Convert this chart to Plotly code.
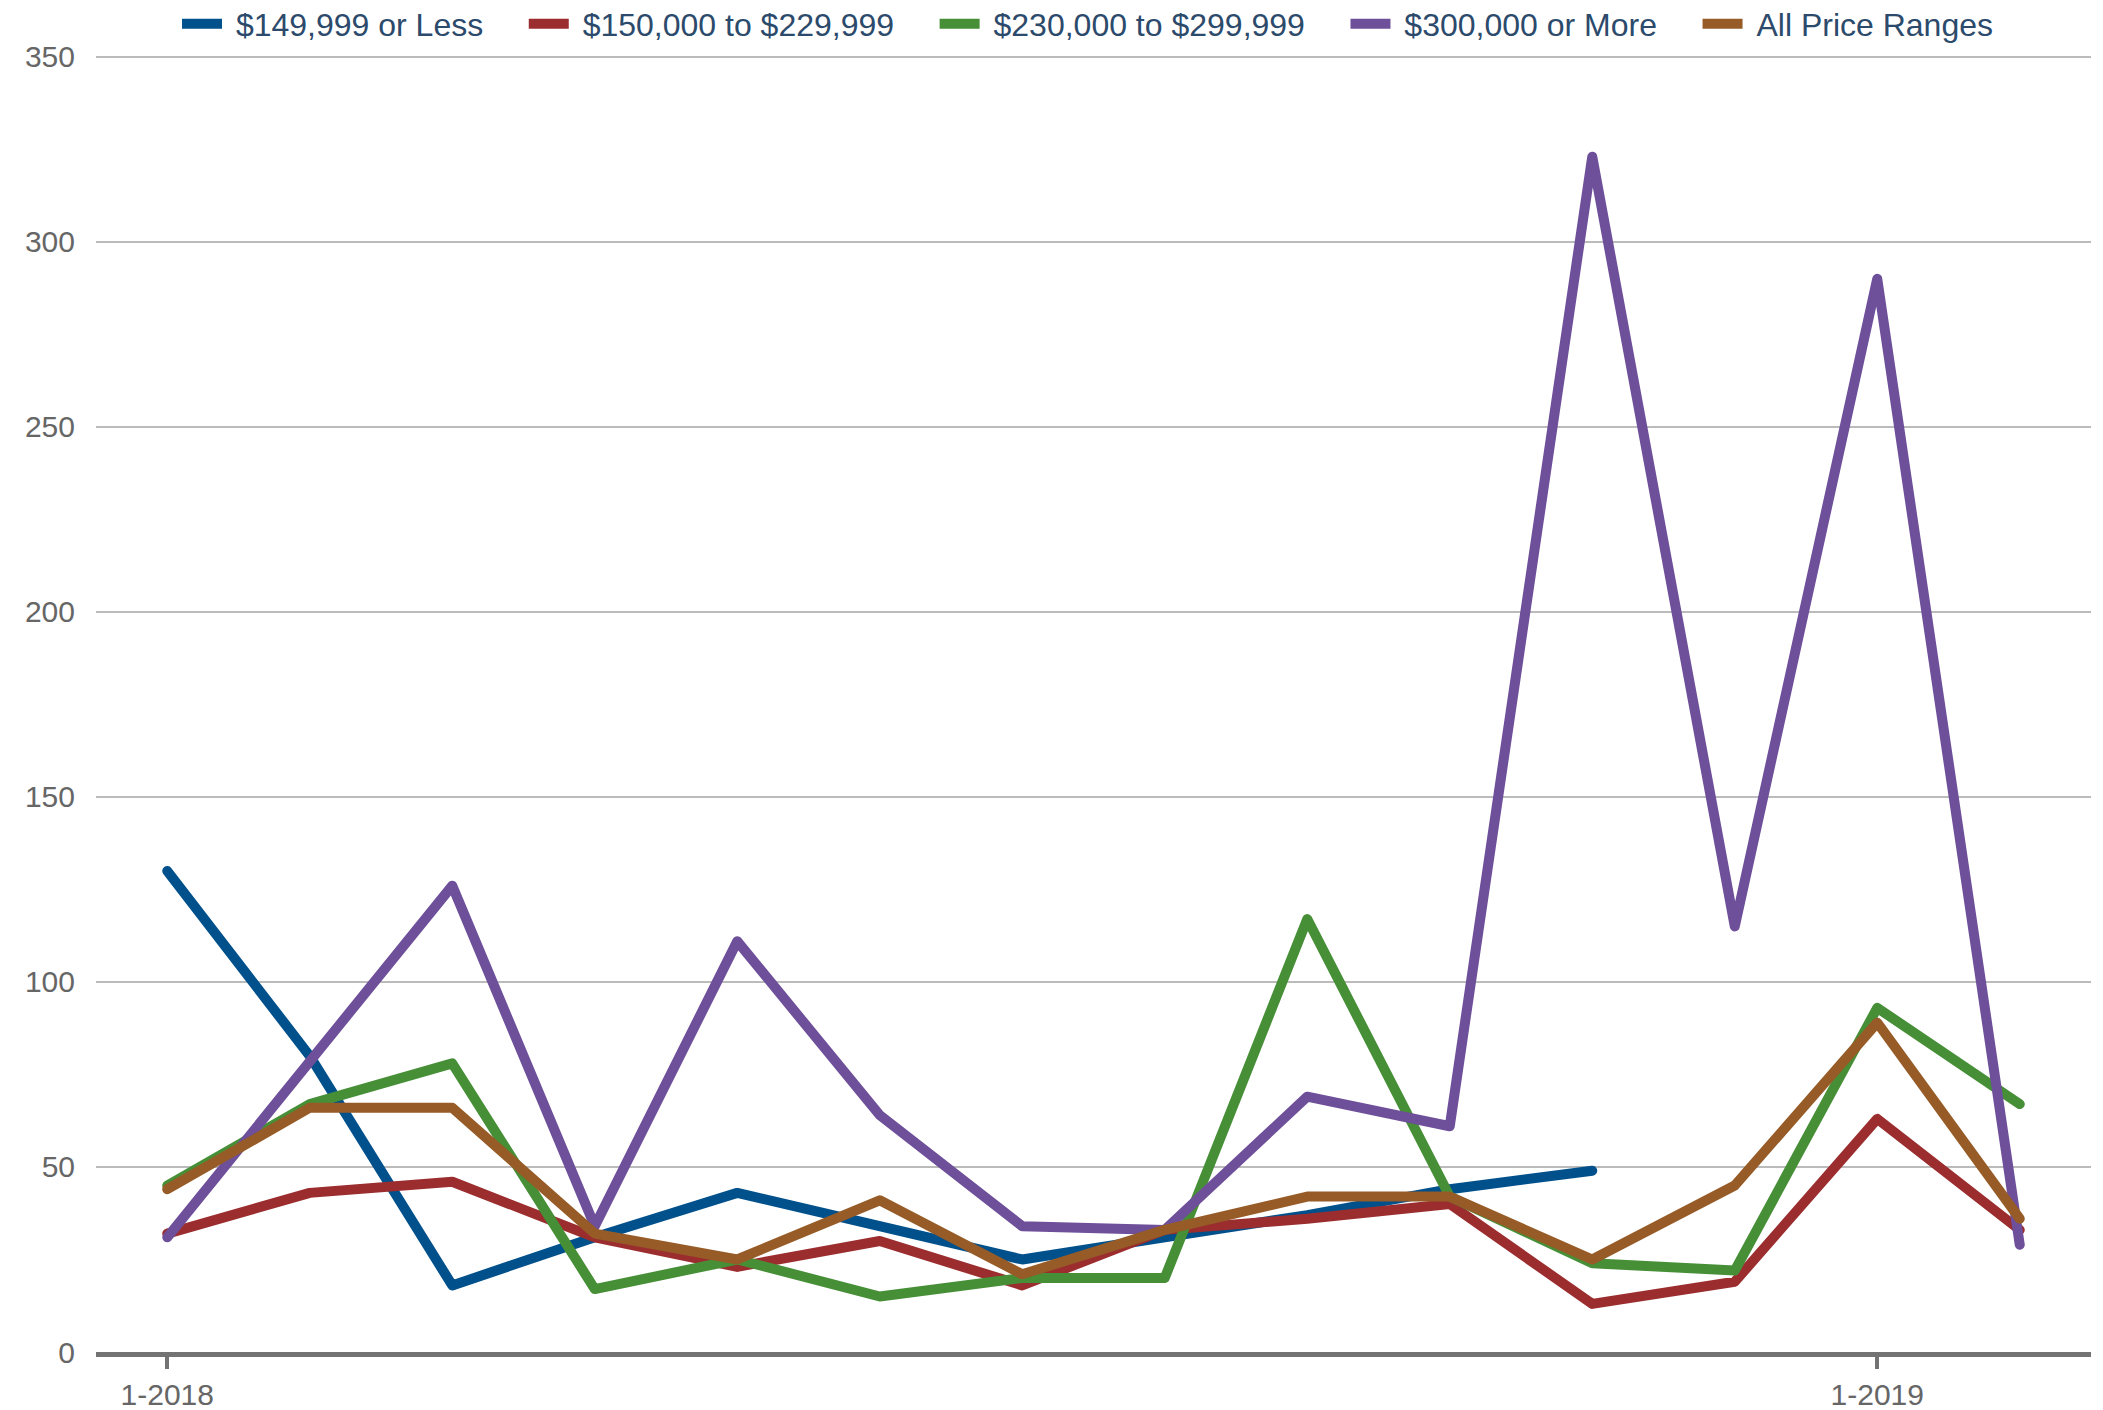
import plotly.graph_objects as go

months = ["1-2018", "2-2018", "3-2018", "4-2018", "5-2018", "6-2018", "7-2018",
          "8-2018", "9-2018", "10-2018", "11-2018", "12-2018", "1-2019", "2-2019"]
tick_labels = ["1-2018", "1-2019"]

under_150 = [130, 80, 18, 31, 43, 34, 25, 31, 37, 44, 49, None, None, None]
r150_230 = [32, 43, 46, 31, 23, 30, 18, 33, 36, 40, 13, 19, 63, 33]
r230_300 = [45, 67, 78, 17, 25, 15, 20, 20, 117, 42, 24, 22, 93, 67]
over_300 = [31, 79, 126, 34, 111, 64, 34, 33, 69, 61, 323, 115, 290, 29]
all_ranges = [44, 66, 66, 32, 25, 41, 21, 33, 42, 42, 25, 45, 89, 36]

series_names = ["$149,999 or Less", "$150,000 to $229,999", "$230,000 to $299,999",
                "$300,000 or More", "All Price Ranges"]
series_values = [under_150, r150_230, r230_300, over_300, all_ranges]
series_colors = ["#00508c", "#9b2d2f", "#468f37", "#6e4f9a", "#965b26"]

NB = "\u00a0"
fig = go.Figure()
for i, (name, vals, color) in enumerate(zip(series_names, series_values, series_colors)):
    pad_after = NB * 4 if i < len(series_names) - 1 else ""
    fig.add_trace(go.Scatter(
        x=months, y=vals, name=NB + name + pad_after, mode="lines",
        line=dict(color=color, width=10),
        connectgaps=False,
    ))

font_family = "Liberation Sans, Arial, Helvetica, sans-serif"

fig.update_layout(
    width=2103, height=1410,
    margin=dict(l=96, r=12, t=55, b=58, autoexpand=False),
    paper_bgcolor="white", plot_bgcolor="white",
    font=dict(family=font_family, size=30, color="#666666"),
    showlegend=True,
    legend=dict(
        orientation="h", x=0.497, xanchor="center", y=1.024, yanchor="middle",
        font=dict(family=font_family, size=32, color="#2c4a6b"),
        bgcolor="rgba(0,0,0,0)", itemwidth=40,
    ),
    xaxis=dict(
        type="category",
        categoryorder="array", categoryarray=months,
        tickmode="array", tickvals=tick_labels, ticktext=tick_labels,
        showgrid=False, zeroline=False,
        showline=True, linecolor="#737373", linewidth=5,
        ticks="outside", ticklen=12, tickwidth=4, tickcolor="#737373",
        tickfont=dict(size=30, color="#666666"),
        range=[-0.5, 13.5],
    ),
    yaxis=dict(
        range=[0, 350.5], tickmode="array", tickvals=[0, 50, 100, 150, 200, 250, 300, 350],
        showgrid=True, gridcolor="#bbbbbb", gridwidth=2,
        zeroline=False, showline=False, ticks="",
        tickfont=dict(size=30, color="#666666"),
        ticklabelstandoff=20,
    ),
)

post = (
    "document.body.style.margin='0';document.body.style.overflow='hidden';"
    "document.head.insertAdjacentHTML('beforeend',"
    "'<style>.scatterlayer .js-line{stroke-linejoin:round;stroke-linecap:round;}</style>');"
)
fig.write_html("out.html", config={"displayModeBar": False}, post_script=post)
